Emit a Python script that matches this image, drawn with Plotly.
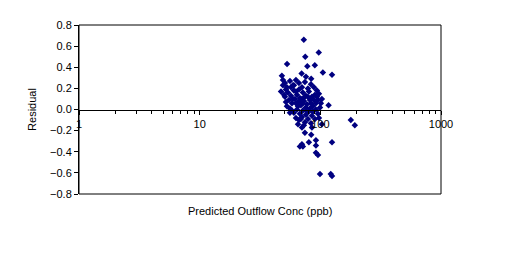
import plotly.graph_objects as go

predicted_ppb = [
    73, 75, 97, 53, 78, 90, 48, 70, 105, 125, 76, 84,
    49.0, 50.9, 52.9, 56.0, 59.3, 62.8, 66.5, 70.4, 74.5, 78.9, 83.6, 88.5, 93.7,
    53.9, 57.1, 60.4, 64.0, 67.7, 71.7, 75.9, 80.4, 85.2, 90.2, 95.5,
    50.9, 55.0, 58.2, 61.6, 65.3, 69.0, 73.1, 77.4, 82.0, 86.8, 91.9, 99.3,
    52.9, 56.0, 60.4, 64.0, 67.7, 71.7, 75.9, 80.4, 85.2, 90.2, 95.5,
    62.8, 66.5, 70.4, 74.5, 78.9, 83.6, 65.3, 73.1,
    57.1, 60.4, 62.8, 66.5, 70.4, 74.5, 67.7, 59.3, 62.8, 75.9, 78.9, 83.6, 88.5,
    93.7, 97.4, 103, 101, 49.0, 47.2, 50.0, 51.9, 58.2, 65.3, 71.7, 82.0, 86.8,
    69.0, 77.4, 91.9, 97.4,
    51.9, 56.0, 70.4, 74.5, 84.0, 85.2, 103, 117, 92, 80.4, 92, 125, 70.4, 67.7,
    71.7, 92, 95.5, 99.3, 122, 125, 179, 193,
]
residual = [
    0.66, 0.50, 0.54, 0.43, 0.41, 0.42, 0.32, 0.34, 0.35, 0.33, 0.31, 0.29,
    0.28, 0.25, 0.21, 0.27, 0.23, 0.28, 0.25, 0.21, 0.26, 0.20, 0.24, 0.21, 0.18,
    0.16, 0.13, 0.18, 0.14, 0.11, 0.16, 0.13, 0.17, 0.12, 0.14, 0.09,
    0.12, 0.09, 0.06, 0.10, 0.07, 0.04, 0.08, 0.05, 0.09, 0.03, 0.06, 0.02,
    0.03, 0.01, -0.03, 0.00, -0.04, -0.01, -0.05, -0.02, -0.06, -0.09, -0.04,
    -0.08, -0.10, -0.07, -0.12, -0.09, -0.13, -0.14, -0.15,
    0.21, 0.23, 0.17, 0.19, 0.10, 0.12, 0.08, 0.10, 0.06, 0.02, 0.12, 0.06, 0.09,
    0.12, 0.15, 0.10, 0.06, 0.23, 0.17, 0.14, 0.19, -0.01, 0.03, 0.06, 0.01, -0.02,
    -0.09, -0.02, 0.00, -0.08,
    0.07, -0.03, -0.17, -0.22, -0.24, -0.17, -0.14, 0.04, -0.29, -0.31, -0.34, -0.31, -0.33, -0.35,
    -0.35, -0.41, -0.43, -0.61, -0.61, -0.63, -0.10, -0.15,
]

x_tick_vals = [1, 10, 100, 1000]
x_tick_text = ["1", "10", "100", "1000"]
x_minor_vals = [m * d for d in (1, 10, 100) for m in range(2, 10)]
y_tick_vals = [-0.8, -0.6, -0.4, -0.2, 0.0, 0.2, 0.4, 0.6, 0.8]

font = dict(family="Liberation Sans, Arial, sans-serif", size=11, color="black")

fig = go.Figure(go.Scatter(
    x=predicted_ppb, y=residual, mode="markers",
    marker=dict(symbol="diamond", size=5, color="#000080", line=dict(width=0)),
    showlegend=False,
))

fig.update_layout(
    width=511, height=257,
    margin=dict(l=79, r=70, t=25, b=63),
    paper_bgcolor="white", plot_bgcolor="white",
    font=font,
    xaxis=dict(
        type="log", range=[0, 3],
        tickvals=x_tick_vals, ticktext=x_tick_text,
        ticks="outside", ticklen=4, tickcolor="black",
        showline=True, linecolor="black", linewidth=1,
        showgrid=False, zeroline=False,
        anchor="free", position=0.5,
        minor=dict(tickvals=x_minor_vals, ticks="outside", ticklen=3,
                   tickcolor="black", showgrid=False),
        tickfont=font,
    ),
    yaxis=dict(
        range=[-0.8, 0.8], tickvals=y_tick_vals, tickformat=".1f",
        ticks="outside", ticklen=4, tickcolor="black",
        showline=True, linecolor="black", linewidth=1,
        showgrid=False, zeroline=False,
        title=dict(text="Residual", font=font, standoff=11),
        tickfont=font,
    ),
    shapes=[dict(type="rect", xref="paper", yref="paper", x0=0, x1=1, y0=0, y1=1,
                 line=dict(color="black", width=1), fillcolor="rgba(0,0,0,0)", layer="above")],
    annotations=[dict(text="Predicted Outflow Conc (ppb)", xref="paper", yref="paper",
                      x=0.5, y=0, yshift=-17, xanchor="center", yanchor="middle",
                      showarrow=False, font=font)],
)

fig.write_html("out.html")
